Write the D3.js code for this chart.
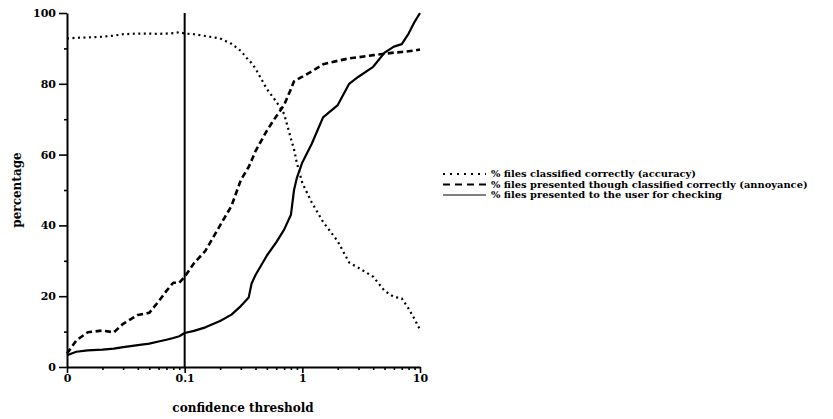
<!DOCTYPE html>
<html><head><meta charset="utf-8">
<script src="https://cdn.jsdelivr.net/npm/d3@7"></script>
<style>body{margin:0;background:#fff}svg{display:block}</style>
</head><body>
<svg id="c" width="833" height="419"></svg>
<script>
const thresholds = [0.01,0.012,0.015,0.02,0.025,0.03,0.04,0.05,0.06,0.07,0.08,0.09,0.1,0.12,0.15,0.2,0.25,0.3,0.35,0.37,0.4,0.5,0.6,0.7,0.8,0.85,0.9,1,1.2,1.5,2,2.5,3,4,5,6,7,8,9,10];
const accuracy  = [92.8,93.0,93.1,93.3,93.6,94.0,94.2,94.2,94.1,94.2,94.3,94.6,94.2,94.0,93.5,92.8,91.3,89.3,86.6,85.9,84.3,78.5,75.0,71.5,64.5,61.5,57.5,52.0,46.5,41.0,35.5,29.5,28.0,25.5,21.5,19.8,19.4,16.5,13.5,10.5];
const annoyance = [3.8,7.5,9.8,10.3,9.8,12.2,14.7,15.3,18.5,21.5,23.8,23.8,25.5,29.3,32.8,40.0,45.5,52.8,56.5,58.3,61.0,66.8,70.8,74.0,78.5,80.7,81.2,82.0,83.5,85.5,86.5,87.2,87.5,88.1,88.5,88.8,89.0,89.2,89.4,89.7];
const presented = [3.3,4.3,4.7,4.9,5.2,5.6,6.2,6.6,7.2,7.7,8.2,8.7,9.6,10.2,11.2,13.0,14.8,17.2,19.6,23.5,26.0,31.5,35.2,38.8,43.0,50.0,53.5,57.8,63.0,70.5,74.0,80.0,82.0,84.8,88.8,90.5,91.2,94.2,97.5,100];
const xTickValues = [0.01,0.1,1,10];
const xTickLabels = ["0","0.1","1","10"];
const xMinorTicks = [0.02,0.03,0.04,0.05,0.06,0.07,0.08,0.09,0.2,0.3,0.4,0.5,0.6,0.7,0.8,0.9,2,3,4,5,6,7,8,9];
const yTickValues = [0,20,40,60,80,100];
const yMinorTicks = [10,30,50,70,90];
const markerThreshold = 0.1;
const seriesNames = ["% files classified correctly (accuracy)","% files presented though classified correctly (annoyance)","% files presented to the user for checking"];
const xTitle = "confidence threshold";
const yTitle = "percentage";

const svg = d3.select("#c");
const FONT = "'DejaVu Serif',serif";
const x = d3.scaleLog().domain([0.01,10]).range([67,420]);
const y = d3.scaleLinear().domain([0,100]).range([367,13]);

function styleAxis(g){
  g.selectAll("path.domain").attr("stroke","#000").attr("stroke-width",2);
  g.selectAll(".tick line").attr("stroke","#000").attr("stroke-width",1.6);
  g.selectAll("text").attr("font-family",FONT).attr("font-weight","bold").attr("font-size",11).attr("fill","#000");
}
// x axis
const gx = svg.append("g").attr("transform",`translate(0,${y(0)})`)
  .call(d3.axisBottom(x).tickValues(xTickValues).tickFormat((d,i)=>xTickLabels[i]).tickSize(6).tickSizeOuter(0).tickPadding(1));
styleAxis(gx);
const gxm = svg.append("g").attr("transform",`translate(0,${y(0)})`)
  .call(d3.axisBottom(x).tickValues(xMinorTicks).tickFormat("").tickSize(3).tickSizeOuter(0));
gxm.select("path.domain").remove();
styleAxis(gxm);
// y axis
const gy = svg.append("g").attr("transform",`translate(${x(0.01)},0)`)
  .call(d3.axisLeft(y).tickValues(yTickValues).tickSize(8).tickSizeOuter(0).tickPadding(3));
styleAxis(gy);
const gym = svg.append("g").attr("transform",`translate(${x(0.01)},0)`)
  .call(d3.axisLeft(y).tickValues(yMinorTicks).tickFormat("").tickSize(3).tickSizeOuter(0));
gym.select("path.domain").remove();
styleAxis(gym);

// marker line
svg.append("line").attr("x1",x(markerThreshold)).attr("x2",x(markerThreshold))
  .attr("y1",y(0)).attr("y2",y(100)).attr("stroke","#000").attr("stroke-width",2);

const styles = [
  {dash:"2,3.5", w:2.2},
  {dash:"6,3.5", w:2.6},
  {dash:null, w:2.2}
];
const series = [accuracy, annoyance, presented];
const line = d3.line().x((d,i)=>x(thresholds[i])).y(d=>y(d));
series.forEach((s,k)=>{
  svg.append("path").datum(s).attr("d",line).attr("fill","none")
    .attr("stroke","#000").attr("stroke-width",styles[k].w)
    .attr("stroke-linejoin","round")
    .attr("stroke-dasharray",styles[k].dash);
});

// titles
svg.append("text").attr("x",243).attr("y",412).attr("text-anchor","middle")
  .attr("font-family",FONT).attr("font-weight","bold").attr("font-size",12).text(xTitle);
svg.append("text").attr("transform","translate(21,190) rotate(-90)").attr("text-anchor","middle")
  .attr("font-family",FONT).attr("font-weight","bold").attr("font-size",12).text(yTitle);

// legend
const legStyles = [{dash:"2,5",w:2},{dash:"7,5",w:2.2},{dash:null,w:1.2}];
seriesNames.forEach((name,k)=>{
  const yy = 174 + k*10.5;
  svg.append("line").attr("x1",443).attr("x2",486).attr("y1",yy).attr("y2",yy)
    .attr("stroke","#000").attr("stroke-width",legStyles[k].w).attr("stroke-dasharray",legStyles[k].dash);
  svg.append("text").attr("x",491).attr("y",yy).attr("dy","0.35em")
    .attr("font-family",FONT).attr("font-weight","bold").attr("font-size",9.9).text(name);
});
</script>
</body></html>
